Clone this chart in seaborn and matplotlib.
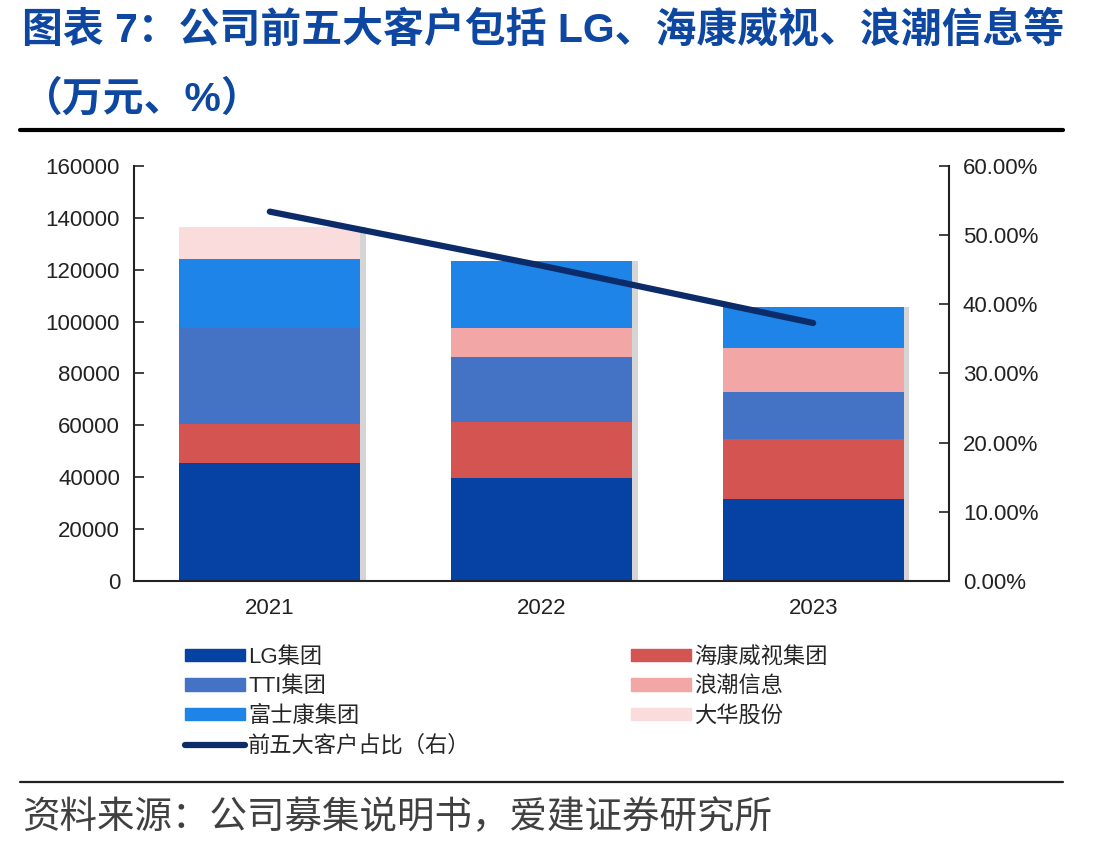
import numpy as np
import pandas as pd
import matplotlib
matplotlib.use("Agg")
import matplotlib.pyplot as plt
import matplotlib.patheffects as pe
from matplotlib.lines import Line2D
from matplotlib.patches import Patch
import seaborn as sns

sns.set_style("white")
plt.rcParams['font.family'] = ['Liberation Sans', 'Noto Sans CJK SC', 'DejaVu Sans']
plt.rcParams['axes.unicode_minus'] = False

years = ["2021", "2022", "2023"]
customers = ["LG集团", "海康威视集团", "TTI集团", "浪潮信息", "富士康集团", "大华股份"]
lg = [45400, 39600, 31600]
hikvision = [15000, 21800, 23000]
tti = [37000, 25100, 18300]
inspur = [0, 10900, 17100]
foxconn = [26600, 26100, 15800]
dahua = [12600, 0, 0]
top5_share = [53.4, 45.6, 37.3]
line_label = "前五大客户占比（右）"

colors = {
    "LG集团": "#0542A3",
    "海康威视集团": "#D35450",
    "TTI集团": "#4472C4",
    "浪潮信息": "#F2A6A5",
    "富士康集团": "#1E84E8",
    "大华股份": "#FADCDD",
}
line_color = "#0B2C68"

df = pd.DataFrame({"year": years, "LG集团": lg, "海康威视集团": hikvision,
                   "TTI集团": tti, "浪潮信息": inspur, "富士康集团": foxconn,
                   "大华股份": dahua})

fig = plt.figure(figsize=(11, 8.5), dpi=100)
ax = fig.add_axes([0.1218, 0.3165, 0.7409, 0.4882])

# stacked bars, one seaborn call per customer layer
bottom = np.zeros(len(years))
shadow = [pe.withSimplePatchShadow(offset=(4, 0), shadow_rgbFace="#888888", alpha=0.35),
          pe.Normal()]
for c in customers:
    sns.barplot(data=df, x="year", y=c, color=colors[c], width=0.667,
                bottom=bottom, ax=ax, saturation=1, linewidth=0)
    bottom = bottom + df[c].values
for p in ax.patches:
    if p.get_height() > 0:
        p.set_path_effects(shadow)

ax.set_xlim(-0.5, 2.5)
ax.set_ylim(0, 160000)
ax.set_yticks(np.arange(0, 160001, 20000))
ax.set_xlabel("")
ax.set_ylabel("")
ax.tick_params(axis="y", direction="in", length=7, width=1.2, labelsize=16, colors="#222222", pad=10)
ax.tick_params(axis="x", length=0, labelsize=16, colors="#222222", pad=12)
ax.set_xticks([0.5, 1.5], minor=True)
ax.tick_params(axis="x", which="minor", direction="in", length=7, width=1.2, color="#222222")

ax2 = ax.twinx()
sns.lineplot(x=np.arange(len(years)), y=top5_share, ax=ax2, color=line_color,
             linewidth=4.5, solid_capstyle="round")
ax2.set_ylim(0, 60)
ax2.set_yticks(np.arange(0, 61, 10))
ax2.set_yticklabels([f"{v:.2f}%" for v in np.arange(0, 61, 10)])
ax2.tick_params(axis="y", direction="in", length=7, width=1.2, labelsize=16, colors="#222222", pad=10)

for a in (ax, ax2):
    a.spines["top"].set_visible(False)
    for s in ("left", "right", "bottom"):
        a.spines[s].set_color("#222222")
        a.spines[s].set_linewidth(1.5)
ax.spines["right"].set_visible(False)
ax2.spines["left"].set_visible(False)
ax2.spines["bottom"].set_visible(False)

# legend: two columns, column-major order
handles = [Patch(color=colors["LG集团"], label="LG集团"),
           Patch(color=colors["TTI集团"], label="TTI集团"),
           Patch(color=colors["富士康集团"], label="富士康集团"),
           Line2D([0], [0], color=line_color, lw=4.5, solid_capstyle="round", label=line_label),
           Patch(color=colors["海康威视集团"], label="海康威视集团"),
           Patch(color=colors["浪潮信息"], label="浪潮信息"),
           Patch(color=colors["大华股份"], label="大华股份")]
leg = fig.legend(handles=handles, ncol=2, loc="upper left", bbox_to_anchor=(0.168, 0.239),
                 frameon=False, fontsize=16, handlelength=2.7, handleheight=0.5,
                 handletextpad=0.15, columnspacing=7.2, labelspacing=0.38,
                 borderpad=0, borderaxespad=0)

# title and rules
fig.text(0.02, 0.965, "图表 7：公司前五大客户包括 LG、海康威视、浪潮信息等", fontsize=29.4,
         fontweight="bold", color="#0D47A1", va="center", ha="left")
fig.text(0.02, 0.883, "（万元、%）", fontsize=29.4, fontweight="bold", color="#0D47A1",
         va="center", ha="left")
fig.add_artist(Line2D([0.018, 0.966], [0.847, 0.847], color="black", lw=3))
fig.add_artist(Line2D([0.018, 0.966], [0.08, 0.08], color="#222222", lw=1.6))
fig.text(0.02, 0.037, "资料来源：公司募集说明书，爱建证券研究所", fontsize=27,
         color="#404040", va="center", ha="left")

fig.savefig("out.png", dpi=100)
